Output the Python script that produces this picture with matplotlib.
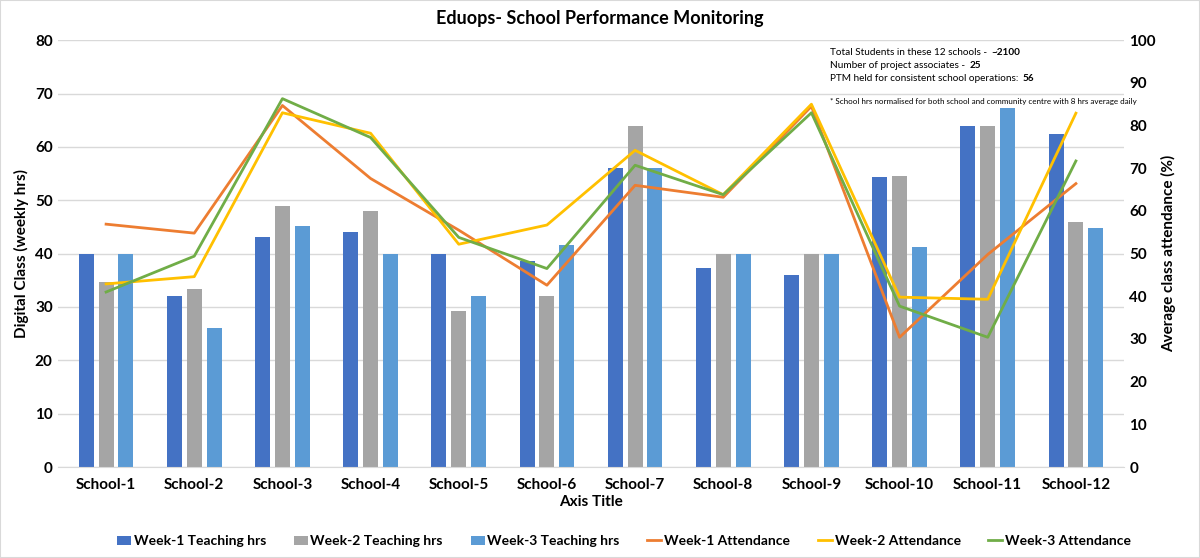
import matplotlib.pyplot as plt
import numpy as np
from matplotlib.patches import Rectangle

plt.rcParams['font.family'] = ['Lato', 'DejaVu Sans']

schools = ["School-1", "School-2", "School-3", "School-4", "School-5", "School-6",
           "School-7", "School-8", "School-9", "School-10", "School-11", "School-12"]

week1_hrs = [40, 32, 43.2, 44, 40, 38.6, 56, 37.3, 36, 54.4, 64, 62.4]
week2_hrs = [34.6, 33.3, 49, 48, 29.3, 32, 64, 40, 40, 54.6, 64, 46]
week3_hrs = [40, 26, 45.1, 40, 32, 41.6, 56, 40, 40, 41.3, 67.2, 44.8]

week1_att = [56.9, 54.8, 84.7, 67.6, 55.5, 42.6, 66, 63.2, 84.5, 30.4, 49.8, 66.4]
week2_att = [42.9, 44.6, 83, 78.2, 52.2, 56.7, 74.2, 63.8, 85, 39.8, 39.3, 82.9]
week3_att = [41, 49.4, 86.3, 77.2, 53.8, 46.5, 70.7, 63.8, 83, 37.7, 30.4, 71.7]

notes = [("Total Students in these 12 schools - ", "~2100"),
         ("Number of project associates - ", "25"),
         ("PTM held for consistent school operations: ", "56")]

c_w1 = "#4472C4"
c_w2 = "#A5A5A5"
c_w3 = "#5B9BD5"
c_a1 = "#ED7D31"
c_a2 = "#FFC000"
c_a3 = "#70AD47"

fig = plt.figure(figsize=(12, 5.58), dpi=100)
ax = fig.add_axes([0.048, 0.163, 0.889, 0.765])
ax2 = ax.twinx()

x = np.arange(len(schools))
w = 0.17
off = 0.225
b1 = ax.bar(x - off, week1_hrs, w, color=c_w1, label="Week-1 Teaching hrs", zorder=2)
b2 = ax.bar(x, week2_hrs, w, color=c_w2, label="Week-2 Teaching hrs", zorder=2)
b3 = ax.bar(x + off, week3_hrs, w, color=c_w3, label="Week-3 Teaching hrs", zorder=2)

l1, = ax2.plot(x, week1_att, color=c_a1, lw=2, label="Week-1 Attendance")
l2, = ax2.plot(x, week2_att, color=c_a2, lw=2, label="Week-2 Attendance")
l3, = ax2.plot(x, week3_att, color=c_a3, lw=2, label="Week-3 Attendance")

ax.set_xlim(-0.55, 11.55)
ax.set_ylim(0, 80)
ax.set_yticks(range(0, 81, 10))
ax2.set_ylim(0, 100)
ax2.set_yticks(range(0, 101, 10))
ax.set_xticks(x)
ax.set_xticklabels(schools, fontweight='bold', fontsize=11)
for lab in ax.get_yticklabels() + ax2.get_yticklabels():
    lab.set_fontweight('bold')
    lab.set_fontsize(11)

ax.grid(axis='y', color='#D9D9D9', lw=1, zorder=0)
ax.set_axisbelow(True)
for a in (ax, ax2):
    for s in a.spines.values():
        s.set_visible(False)
    a.tick_params(length=0)
ax.spines['bottom'].set_visible(True)
ax.spines['bottom'].set_color('#D9D9D9')
ax.tick_params(axis='x', pad=8)

ax.set_ylabel("Digital Class (weekly hrs)", fontweight='bold', fontsize=11)
ax2.set_ylabel("Average class attendance (%)", fontweight='bold', fontsize=11)
ax.set_xlabel("Axis Title", fontweight='bold', fontsize=11, labelpad=2)

fig.text(0.5, 0.967, "Eduops- School Performance Monitoring", ha='center', va='center',
         fontweight='bold', fontsize=13)

# note block: normal text followed by a bold value
fig.canvas.draw()
renderer = fig.canvas.get_renderer()
ys = [0.906, 0.882, 0.859]
for (txt, val), yy in zip(notes, ys):
    t = fig.text(0.692, yy, txt.rstrip(), fontsize=7.2, va='center')
    bb = t.get_window_extent(renderer)
    xe = bb.x1 / fig.bbox.width + 0.003
    fig.text(xe, yy, val, fontsize=7.2, va='center', fontweight='bold')
fig.text(0.692, 0.818, "* School hrs normalised for both school and community centre with 8 hrs average daily",
         fontsize=5.8, va='center')

handles = [b1, b2, b3, l1, l2, l3]
fig.legend(handles, [h.get_label() for h in handles], loc='center', bbox_to_anchor=(0.52, 0.03),
           ncol=6, frameon=False, prop={'weight': 'bold', 'size': 10},
           handlelength=1.0, handletextpad=0.2, columnspacing=2.0)

fig.patches.append(Rectangle((0, 0), 1, 1, transform=fig.transFigure, fill=False,
                             edgecolor='#D9D9D9', lw=1.5))

plt.savefig("out.png", dpi=100)
